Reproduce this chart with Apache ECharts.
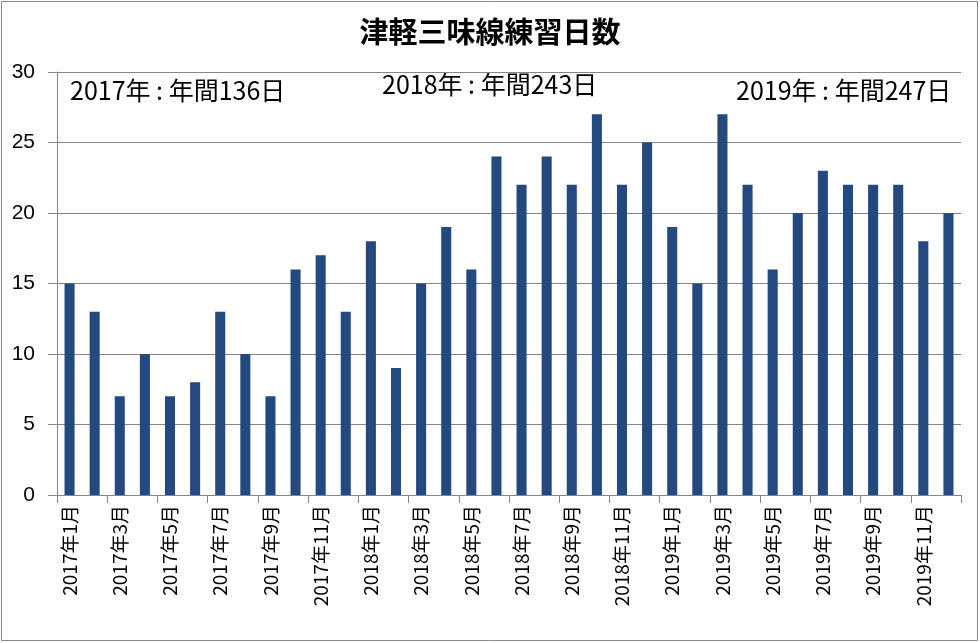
<!DOCTYPE html>
<html><head><meta charset="utf-8">
<script src="https://cdn.jsdelivr.net/npm/echarts@6/dist/echarts.min.js"></script>
<style>html,body{margin:0;padding:0;background:#fff}#c{width:980px;height:643px}</style>
</head><body><div id="c"></div>
<script>
const categories = [
  "2017年1月","2017年2月","2017年3月","2017年4月","2017年5月","2017年6月","2017年7月","2017年8月","2017年9月","2017年10月","2017年11月","2017年12月",
  "2018年1月","2018年2月","2018年3月","2018年4月","2018年5月","2018年6月","2018年7月","2018年8月","2018年9月","2018年10月","2018年11月","2018年12月",
  "2019年1月","2019年2月","2019年3月","2019年4月","2019年5月","2019年6月","2019年7月","2019年8月","2019年9月","2019年10月","2019年11月","2019年12月"
];
const practiceDays = [
  15,13,7,10,7,8,13,10,7,16,17,13,
  18,9,15,19,16,24,22,24,22,27,22,25,
  19,15,27,22,16,20,23,22,22,22,18,20
];
const yTicks = [0,5,10,15,20,25,30];
const titleText = "津軽三味線練習日数";
const notes = ["2017年 : 年間136日","2018年 : 年間243日","2019年 : 年間247日"];

const chart = echarts.init(document.getElementById('c'), null, {renderer:'canvas'});
const cjk = 'Noto Sans CJK JP';
chart.setOption({
  animation:false,
  backgroundColor:'#fff',
  title:{text:titleText,left:'center',top:12,textStyle:{fontFamily:cjk,fontSize:29,fontWeight:'bold',color:'#000'}},
  grid:{left:57,right:19,top:72,bottom:148,containLabel:false},
  xAxis:{type:'category',data:categories,boundaryGap:true,
    axisLine:{lineStyle:{color:'#868686',width:1}},
    axisTick:{show:true,interval:1,length:8,lineStyle:{color:'#868686'}},
    axisLabel:{show:true,interval:1,rotate:90,margin:10,fontSize:19,color:'#000',fontFamily:cjk,hideOverlap:false}
  },
  yAxis:{type:'value',min:yTicks[0],max:yTicks[yTicks.length-1],interval:5,
    axisLine:{show:true,lineStyle:{color:'#868686',width:1}},
    axisTick:{show:true,length:9,lineStyle:{color:'#868686'}},
    splitLine:{show:true,lineStyle:{color:'#868686',width:1}},
    axisLabel:{margin:22,fontSize:21,color:'#000',fontFamily:'Liberation Sans'}
  },
  series:[{type:'bar',data:practiceDays,barWidth:'40%',itemStyle:{color:'#23497f'}}],
  graphic:[
    {type:'rect',shape:{x:1.5,y:1.5,width:976,height:639},style:{fill:null,stroke:'#888',lineWidth:1},z:-1},
    {type:'text',left:70,top:78,style:{text:notes[0],font:'25px "Noto Sans CJK JP"',fill:'#000'}},
    {type:'text',left:382,top:72,style:{text:notes[1],font:'25px "Noto Sans CJK JP"',fill:'#000'}},
    {type:'text',left:736,top:78,style:{text:notes[2],font:'25px "Noto Sans CJK JP"',fill:'#000'}}
  ]
});
</script></body></html>
